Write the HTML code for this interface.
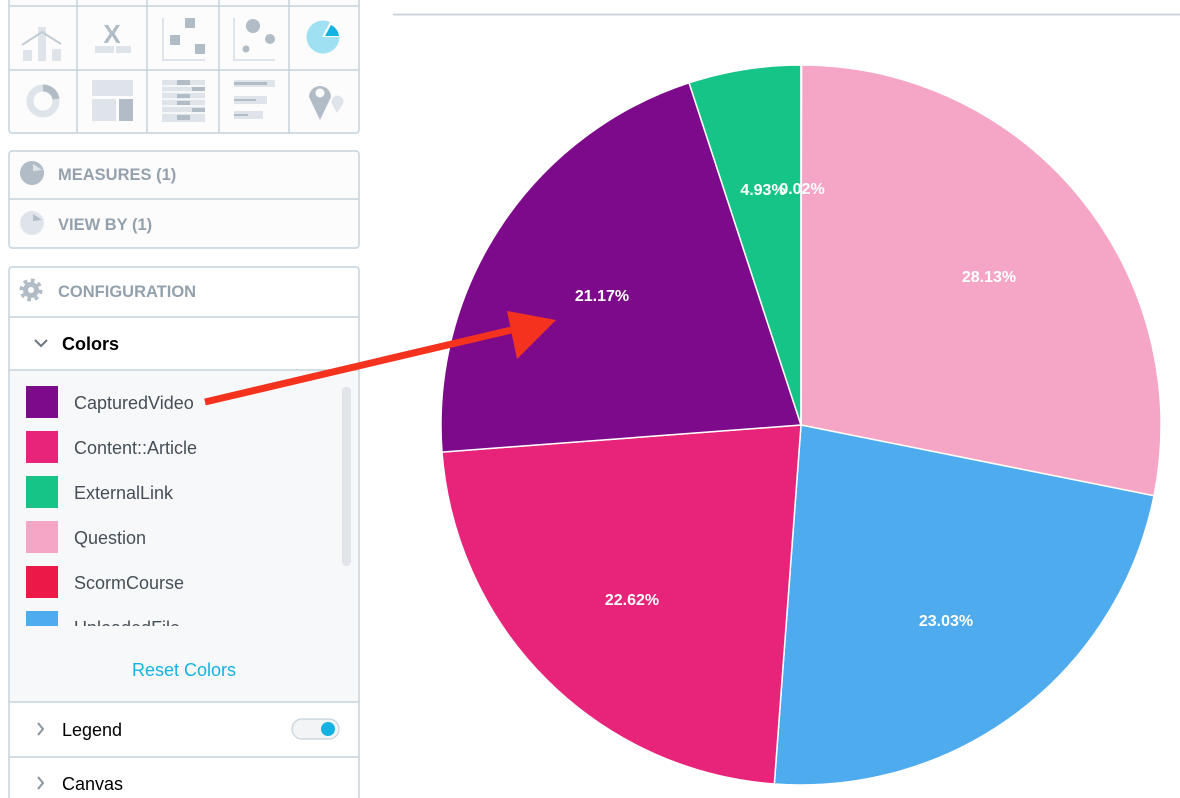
<!DOCTYPE html>
<html><head><meta charset="utf-8"><style>
html,body{margin:0;padding:0;background:#fff;}
svg{display:block;font-family:"Liberation Sans",sans-serif;}
</style></head><body>
<svg width="1180" height="798" viewBox="0 0 1180 798" xmlns="http://www.w3.org/2000/svg">
<rect width="1180" height="798" fill="#fff"/>
<line x1="393" y1="14.5" x2="1180" y2="14.5" stroke="#ccd6df" stroke-width="2"/>
<rect x="9" y="-5" width="350" height="138" rx="3" fill="#fcfcfd" stroke="#c6d2dc" stroke-width="1.5"/>
<g stroke="#c6d2dc" stroke-width="1.5">
<line x1="77" y1="0" x2="77" y2="133"/><line x1="147" y1="0" x2="147" y2="133"/>
<line x1="219" y1="0" x2="219" y2="133"/><line x1="289" y1="0" x2="289" y2="133"/>
<line x1="9" y1="6" x2="359" y2="6"/><line x1="9" y1="70" x2="359" y2="70"/>
</g>
<g fill="#dfe4ea">
<rect x="23" y="50" width="9" height="11"/><rect x="38" y="27" width="8" height="34"/><rect x="52" y="49" width="9" height="12"/>
<rect x="95" y="46" width="19" height="7"/><rect x="116" y="46" width="15" height="7"/>
</g>
<polyline points="22,45 42,32 61,44" fill="none" stroke="#c3ccd5" stroke-width="2"/>
<text x="112" y="43" font-size="26" font-weight="bold" fill="#b1bcc6" text-anchor="middle">X</text>
<path d="M163 18 V60 H205" fill="none" stroke="#dfe4ea" stroke-width="2"/>
<rect x="185" y="18" width="10" height="10" fill="#b1bcc6"/><rect x="170" y="35" width="10" height="10" fill="#b1bcc6"/><rect x="195" y="44" width="10" height="10" fill="#b1bcc6"/>
<path d="M234 18 V60 H275" fill="none" stroke="#dfe4ea" stroke-width="2"/>
<circle cx="253" cy="26" r="7" fill="#b1bcc6"/><circle cx="270" cy="39" r="5" fill="#b1bcc6"/><circle cx="246" cy="49" r="3.5" fill="#b1bcc6"/>
<circle cx="323" cy="37" r="16.5" fill="#9fe0f2"/>
<path d="M322 37 L330 22 A16 16 0 0 1 340 37 Z" fill="#fff"/>
<path d="M325 36 L331 25 A14 14 0 0 1 339 36 Z" fill="#14b2e2"/>
<circle cx="43" cy="101" r="13" fill="none" stroke="#dfe4ea" stroke-width="7"/>
<path d="M43 88 A13 13 0 0 1 56 99" fill="none" stroke="#b1bcc6" stroke-width="7"/>
<rect x="92" y="80" width="41" height="16" fill="#dfe4ea"/><rect x="92" y="99" width="24" height="22" fill="#dfe4ea"/><rect x="119" y="99" width="14" height="22" fill="#b1bcc6"/>
<g fill="#dfe4ea"><rect x="162" y="80" width="43" height="42"/></g>
<g fill="#b1bcc6"><rect x="177" y="80" width="13" height="5"/><rect x="192" y="87" width="13" height="4"/><rect x="177" y="94" width="13" height="5"/><rect x="177" y="101" width="13" height="4"/><rect x="192" y="108" width="13" height="4"/><rect x="177" y="115" width="13" height="5"/></g>
<g stroke="#fcfcfd" stroke-width="1.5"><line x1="162" y1="86" x2="205" y2="86"/><line x1="162" y1="92" x2="205" y2="92"/><line x1="162" y1="99" x2="205" y2="99"/><line x1="162" y1="106" x2="205" y2="106"/><line x1="162" y1="113" x2="205" y2="113"/></g>
<rect x="234" y="80" width="41" height="7" fill="#dfe4ea"/><rect x="234" y="96" width="33" height="8" fill="#dfe4ea"/><rect x="234" y="111" width="29" height="8" fill="#dfe4ea"/>
<g fill="#b1bcc6"><rect x="234" y="82" width="33" height="3"/><rect x="234" y="99" width="22" height="2"/><rect x="234" y="114" width="14" height="2"/></g>
<path d="M320 120 L309 97 A11 11 0 1 1 331 97 Z" fill="#b1bcc6"/><circle cx="320" cy="93" r="4.5" fill="#fcfcfd"/>
<path d="M337 113 L332 104 A6 6 0 1 1 343 104 Z" fill="#dfe4ea"/>
<rect x="9" y="151" width="350" height="97" rx="3" fill="#fcfcfd" stroke="#c6d2dc" stroke-width="1.5"/>
<line x1="9" y1="199" x2="359" y2="199" stroke="#c6d2dc" stroke-width="1.5"/>
<circle cx="32" cy="173" r="12" fill="#b1bcc6"/><path d="M33 164 L42 170 L33 171Z" fill="#dfe4ea"/>
<circle cx="32" cy="223" r="12" fill="#dfe4ea"/><path d="M33 214 L42 220 L33 221Z" fill="#b1bcc6"/>
<text x="58" y="180" font-size="16.5" font-weight="bold" fill="#94a1ad">MEASURES (1)</text>
<text x="58" y="230" font-size="16.5" font-weight="bold" fill="#94a1ad">VIEW BY (1)</text>
<rect x="9" y="267" width="350" height="540" rx="3" fill="#fff" stroke="#c6d2dc" stroke-width="1.5"/>
<rect x="10" y="370" width="348" height="331" fill="#f7f8fa"/>
<line x1="9" y1="317" x2="359" y2="317" stroke="#c6d2dc" stroke-width="1.5"/>
<line x1="9" y1="370" x2="359" y2="370" stroke="#c6d2dc" stroke-width="1.5"/>
<line x1="9" y1="702" x2="359" y2="702" stroke="#c6d2dc" stroke-width="1.5"/>
<line x1="9" y1="757" x2="359" y2="757" stroke="#c6d2dc" stroke-width="1.5"/>
<circle cx="31" cy="290" r="9" fill="none" stroke="#b1bcc6" stroke-width="5" stroke-dasharray="3.5 3.5"/>
<circle cx="31" cy="290" r="8" fill="#b1bcc6"/><circle cx="31" cy="290" r="3" fill="#fff"/>
<text x="58" y="297" font-size="16.5" font-weight="bold" fill="#94a1ad">CONFIGURATION</text>
<polyline points="35,340 41,346 47,340" fill="none" stroke="#6d7680" stroke-width="2"/>
<text x="62" y="350" font-size="18" font-weight="bold" fill="#000">Colors</text>
<rect x="26" y="386" width="32" height="32" fill="#7c0a8a"/>
<rect x="26" y="431" width="32" height="32" fill="#e8237a"/>
<rect x="26" y="476" width="32" height="32" fill="#16c488"/>
<rect x="26" y="521" width="32" height="32" fill="#f5a6c6"/>
<rect x="26" y="566" width="32" height="32" fill="#ec1848"/>
<rect x="26" y="611" width="32" height="15" fill="#4eabed"/>
<g font-size="18" fill="#464e56">
<text x="74" y="409">CapturedVideo</text>
<text x="74" y="454">Content::Article</text>
<text x="74" y="499">ExternalLink</text>
<text x="74" y="544">Question</text>
<text x="74" y="589">ScormCourse</text>
</g>
<svg x="70" y="611" width="200" height="15"><text x="4" y="23" font-size="18" fill="#464e56">UploadedFile</text></svg>
<rect x="342" y="387" width="9" height="179" rx="4" fill="#e1e5ea"/>
<text x="184" y="676" font-size="18" fill="#14b2e2" text-anchor="middle">Reset Colors</text>
<polyline points="38,723 43,729 38,735" fill="none" stroke="#8a949e" stroke-width="2"/>
<text x="62" y="736" font-size="18" fill="#000">Legend</text>
<rect x="292" y="719" width="47" height="20" rx="10" fill="#f2f4f6" stroke="#c6d2dc" stroke-width="1.2"/>
<circle cx="328" cy="729" r="7" fill="#14b2e2"/>
<polyline points="38,777 43,783 38,789" fill="none" stroke="#8a949e" stroke-width="2"/>
<text x="62" y="790" font-size="18" fill="#000">Canvas</text>
<g stroke="#fff" stroke-width="1.5">
<path d="M801 425 L801.45 65 A360 360 0 0 1 1154 495.8 Z" fill="#f5a6c6"/>
<path d="M801 425 L1154 495.8 A360 360 0 0 1 774.3 784 Z" fill="#4eabed"/>
<path d="M801 425 L774.3 784 A360 360 0 0 1 442 452.1 Z" fill="#e8237a"/>
<path d="M801 425 L442 452.1 A360 360 0 0 1 689.1 82.8 Z" fill="#7c0a8a"/>
<path d="M801 425 L689.1 82.8 A360 360 0 0 1 801 65 Z" fill="#16c488"/>
<path d="M801 425 L801 65 L801.45 65 Z" fill="#f5a6c6"/>
</g>
<g font-size="16" font-weight="bold" fill="#fff" text-anchor="middle">
<text x="989" y="282">28.13%</text>
<text x="946" y="626">23.03%</text>
<text x="632" y="605">22.62%</text>
<text x="602" y="301">21.17%</text>
<text x="763" y="195">4.93%</text>
<text x="802" y="194">0.02%</text>
</g>
<line x1="205" y1="402" x2="520" y2="328" stroke="#f5321e" stroke-width="7"/>
<path d="M556 320 L507 311 L517 359 Z" fill="#f5321e"/>
</svg>
</body></html>
